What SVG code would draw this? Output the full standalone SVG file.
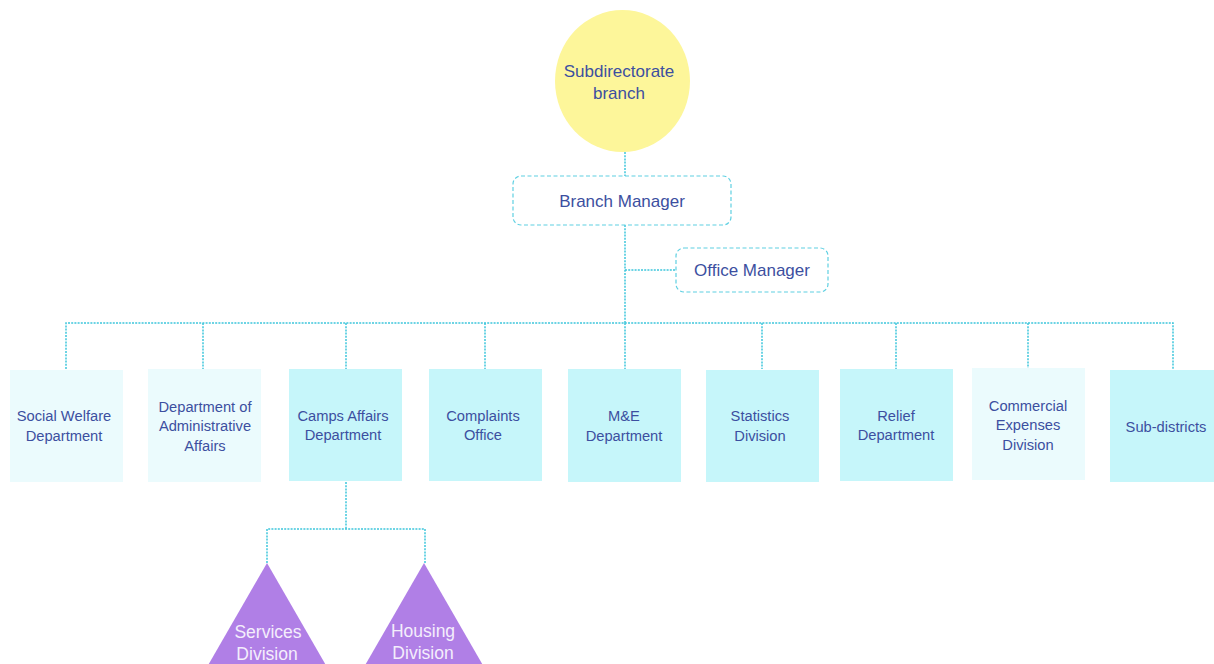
<svg xmlns="http://www.w3.org/2000/svg" width="1214" height="664" viewBox="0 0 1214 664">
  <style>
    .lbl { font-family: "Liberation Sans", Arial, sans-serif; fill: #3c4fa0; text-anchor: middle; }
    .big { font-size: 17px; }
    .sm { font-size: 14.7px; }
    .conn { fill: none; stroke: #3ec6dc; stroke-width: 1.5; stroke-dasharray: 2 1.2; }
    .mgr { fill: #ffffff; stroke: #5fd0e2; stroke-width: 1.2; stroke-dasharray: 4 2.5; }
    .dept { fill: #c6f6fa; }
    .dept-lt { fill: #ebfbfd; }
    .tri { fill: #b07fe6; }
    .tri-lbl { font-family: "Liberation Sans", Arial, sans-serif; fill: #f4eefc; text-anchor: middle; font-size: 17.5px; }
  </style>
  <rect width="1214" height="664" fill="#ffffff"/>

  <!-- connectors -->
  <g id="connectors">
    <path class="conn" d="M625 152 V176"/>
    <path class="conn" d="M625 225 V323"/>
    <path class="conn" d="M625 270 H676"/>
    <path class="conn" d="M66 369 V323 H1173 V369"/>
    <path class="conn" d="M203 323 V369"/>
    <path class="conn" d="M346 323 V369"/>
    <path class="conn" d="M485 323 V369"/>
    <path class="conn" d="M625 323 V369"/>
    <path class="conn" d="M762 323 V369"/>
    <path class="conn" d="M896 323 V369"/>
    <path class="conn" d="M1028 323 V368"/>
    <path class="conn" d="M346 482 V529"/>
    <path class="conn" d="M267 563 V529 H425 V563"/>
  </g>

  <!-- root -->
  <g id="subdirectorate">
    <ellipse cx="622.5" cy="81" rx="67.5" ry="71" fill="#fdf69a"/>
    <text class="lbl big" x="619" y="77">Subdirectorate</text>
    <text class="lbl big" x="619" y="99">branch</text>
  </g>

  <g id="branch-manager">
    <rect class="mgr" x="513" y="176" width="218" height="49" rx="8"/>
    <text class="lbl big" x="622" y="207">Branch Manager</text>
  </g>

  <g id="office-manager">
    <rect class="mgr" x="676" y="248" width="152" height="44" rx="8"/>
    <text class="lbl big" x="752" y="276">Office Manager</text>
  </g>

  <!-- departments -->
  <g id="social-welfare">
    <rect class="dept-lt" x="10" y="370" width="113" height="112"/>
    <text class="lbl sm" x="64" y="421">Social Welfare</text>
    <text class="lbl sm" x="64" y="441">Department</text>
  </g>
  <g id="administrative-affairs">
    <rect class="dept-lt" x="148" y="369" width="113" height="113"/>
    <text class="lbl sm" x="205" y="412">Department of</text>
    <text class="lbl sm" x="205" y="431">Administrative</text>
    <text class="lbl sm" x="205" y="451">Affairs</text>
  </g>
  <g id="camps-affairs">
    <rect class="dept" x="289" y="369" width="113" height="112"/>
    <text class="lbl sm" x="343" y="421">Camps Affairs</text>
    <text class="lbl sm" x="343" y="440">Department</text>
  </g>
  <g id="complaints-office">
    <rect class="dept" x="429" y="369" width="113" height="112"/>
    <text class="lbl sm" x="483" y="421">Complaints</text>
    <text class="lbl sm" x="483" y="440">Office</text>
  </g>
  <g id="me-department">
    <rect class="dept" x="568" y="369" width="113" height="113"/>
    <text class="lbl sm" x="624" y="421">M&amp;E</text>
    <text class="lbl sm" x="624" y="441">Department</text>
  </g>
  <g id="statistics-division">
    <rect class="dept" x="706" y="370" width="113" height="112"/>
    <text class="lbl sm" x="760" y="421">Statistics</text>
    <text class="lbl sm" x="760" y="441">Division</text>
  </g>
  <g id="relief-department">
    <rect class="dept" x="840" y="369" width="113" height="112"/>
    <text class="lbl sm" x="896" y="421">Relief</text>
    <text class="lbl sm" x="896" y="440">Department</text>
  </g>
  <g id="commercial-expenses">
    <rect class="dept-lt" x="972" y="368" width="113" height="112"/>
    <text class="lbl sm" x="1028" y="411">Commercial</text>
    <text class="lbl sm" x="1028" y="430">Expenses</text>
    <text class="lbl sm" x="1028" y="450">Division</text>
  </g>
  <g id="sub-districts">
    <rect class="dept" x="1110" y="370" width="104" height="112"/>
    <text class="lbl sm" x="1166" y="432">Sub-districts</text>
  </g>

  <!-- divisions under Camps Affairs -->
  <g id="services-division">
    <polygon class="tri" points="267,563 331,674 203,674"/>
    <text class="tri-lbl" x="268" y="638">Services</text>
    <text class="tri-lbl" x="267" y="660">Division</text>
  </g>
  <g id="housing-division">
    <polygon class="tri" points="424,563 488,674 360,674"/>
    <text class="tri-lbl" x="423" y="637">Housing</text>
    <text class="tri-lbl" x="423" y="659">Division</text>
  </g>
</svg>
